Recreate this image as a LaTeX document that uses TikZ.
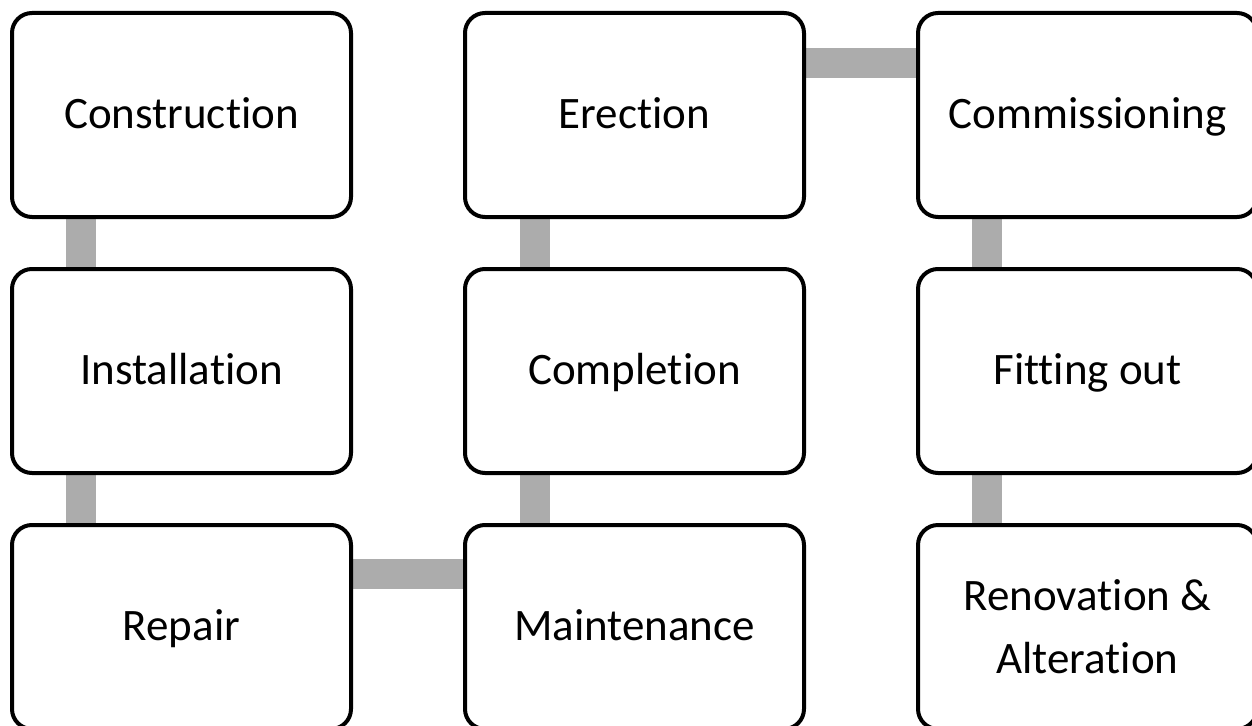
\documentclass[tikz,border=0pt]{standalone}
\usepackage{fontspec}
\setmainfont[Ligatures=NoCommon]{Carlito}
\usetikzlibrary{backgrounds}
\tikzset{
  stage/.style={draw=black, line width=4pt, rounded corners=20pt, fill=white,
    minimum width=339pt, minimum height=204pt, inner sep=0pt, align=center,
    font=\fontsize{45}{63}\selectfont},
  one/.style={text height=36pt, text depth=10pt},
  conn/.style={draw=gray!65, line width=30pt}
}
\begin{document}
\begin{tikzpicture}[x=1pt,y=-1pt]
\useasboundingbox (0,0) rectangle (1252,725);
\node[stage,one] (cons) at (181.5,115) {Construction};
\node[stage,one] (inst) at (181.5,371) {Installation};
\node[stage,one] (rep)  at (181.5,627) {Repair};
\node[stage,one] (ere)  at (634.5,115) {Erection};
\node[stage,one] (comp) at (634.5,371) {Completion};
\node[stage,one] (main) at (634.5,627) {Maintenance};
\node[stage,one] (comm) at (1087.5,115) {Commissioning};
\node[stage,one] (fit)  at (1087.5,371) {Fitting out};
\node[stage] (ren)  at (1087.5,627) {Renovation \&\\Alteration};
\begin{scope}[on background layer]
\draw[conn] ([xshift=-100.5pt]cons.south) -- ([xshift=-100.5pt]inst.north);
\draw[conn] ([xshift=-100.5pt]inst.south) -- ([xshift=-100.5pt]rep.north);
\draw[conn] ([yshift=53pt]rep.east) -- ([yshift=53pt]main.west);
\draw[conn] ([xshift=-99.5pt]main.north) -- ([xshift=-99.5pt]comp.south);
\draw[conn] ([xshift=-99.5pt]comp.north) -- ([xshift=-99.5pt]ere.south);
\draw[conn] ([yshift=52pt]ere.east) -- ([yshift=52pt]comm.west);
\draw[conn] ([xshift=-100.5pt]comm.south) -- ([xshift=-100.5pt]fit.north);
\draw[conn] ([xshift=-100.5pt]fit.south) -- ([xshift=-100.5pt]ren.north);
\end{scope}
\end{tikzpicture}
\end{document}
